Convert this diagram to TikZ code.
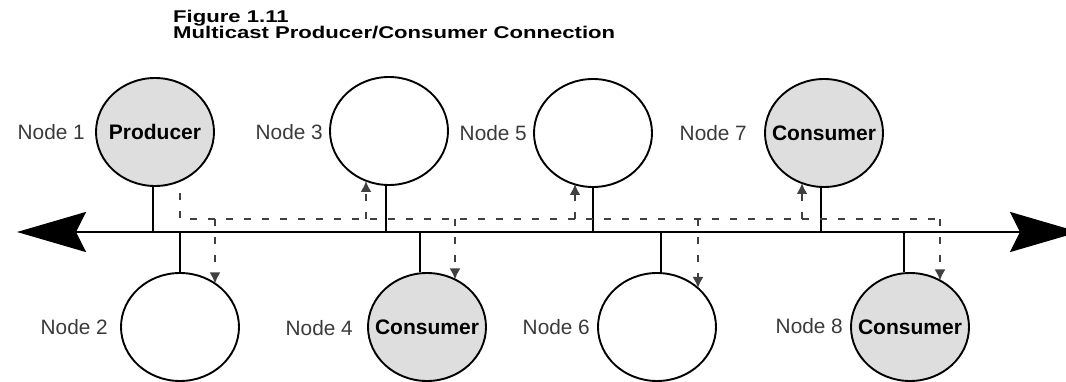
\documentclass[tikz,border=0pt]{standalone}
\usepackage{fontspec}
\setmainfont{Liberation Sans}
\newfontfamily\titlefont[FakeStretch=1.3]{Liberation Sans}
\usetikzlibrary{arrows.meta,shapes.geometric,calc}
\definecolor{nodefill}{RGB}{222,222,222}
\definecolor{dashgray}{RGB}{64,64,64}
\definecolor{labelgray}{RGB}{58,58,58}
\begin{document}
\begin{tikzpicture}[x=1pt,y=-1pt,
  station/.style={ellipse,draw=black,line width=1.9pt,minimum width=118pt,
    minimum height=108pt,inner sep=0pt},
  role/.style={label={[inner sep=0pt,font=\fontsize{21}{25}\selectfont\bfseries]center:#1}},
  active/.style={station,fill=nodefill},
  idle/.style={station,fill=white},
  lbl/.style={anchor=east,inner sep=0pt,text=labelgray,
    font=\fontsize{20.8}{25}\selectfont},
  headline/.style={anchor=base west,inner sep=0pt,
    font=\titlefont\fontsize{17}{20}\selectfont\bfseries},
  bus/.style={line width=2.6pt,
    {Stealth[length=69pt,width=40pt,inset=10pt]}-{Stealth[length=69pt,width=40pt,inset=10pt]}},
  tap/.style={line width=2.2pt},
  msg/.style={draw=dashgray,line width=2pt,dash pattern=on 7pt off 11pt},
  msgarrow/.style={msg,-{Latex[length=11pt,width=11pt]}}]
\useasboundingbox (0,0) rectangle (1066,382);

% title
\node[headline] (title1) at (173,23) {Figure 1.11};
\node[headline] (title2) at (173,39) {Multicast Producer/Consumer Connection};

% network bus
\coordinate (busL) at (17,232);
\coordinate (busR) at (1079,232);
\draw[bus] (busL) -- (busR);

% stations
\node[active,role=Producer] (n1) at (155,132) {};
\node[idle]                 (n2) at (180,327) {};
\node[idle]                 (n3) at (389,131) {};
\node[active,role=Consumer] (n4) at (427,327) {};
\node[idle]                 (n5) at (593,133) {};
\node[idle]                 (n6) at (657,327) {};
\node[active,role=Consumer] (n7) at (824,133) {};
\node[active,role=Consumer] (n8) at (910,327) {};

% station labels
\node[lbl] (l1) at (85,132) {Node 1};
\node[lbl] (l2) at (108,327) {Node 2};
\node[lbl] (l3) at (323,132) {Node 3};
\node[lbl] (l4) at (353,328) {Node 4};
\node[lbl] (l5) at (527,133) {Node 5};
\node[lbl] (l6) at (590,327) {Node 6};
\node[lbl] (l7) at (747,133) {Node 7};
\node[lbl] (l8) at (843,326) {Node 8};

% taps onto the bus
\foreach \n/\x in {1/153,3/386,5/593,7/821}
  \draw[tap] (\x,232) -- (\x,232 |- n\n.south);
\foreach \n/\x in {2/180,4/420,6/661,8/904}
  \draw[tap] (\x,232) -- (\x,232 |- n\n.north);

% multicast message path from the producer
\coordinate (t0) at (180,193);
\coordinate (t1) at (940,219);
\draw[msg] (t0) |- (t1);
\coordinate (b2) at (215,219);
\coordinate (b3) at (366,219);
\coordinate (b4) at (455,219);
\coordinate (b5) at (575,219);
\coordinate (b6) at (698,219);
\coordinate (b7) at (802,219);
\draw[msgarrow] (b2) -- ($(n2.center)+(35,-43.5)$);
\draw[msgarrow] (b3) -- ($(n3.center)+(-23,50)$);
\draw[msgarrow] (b4) -- ($(n4.center)+(28,-47.5)$);
\draw[msgarrow] (b5) -- ($(n5.center)+(-18,51)$);
\draw[msgarrow] (b6) -- ($(n6.center)+(41,-39)$);
\draw[msgarrow] (b7) -- ($(n7.center)+(-22,50)$);
\draw[msgarrow] (t1) -- ($(n8.center)+(30,-46.5)$);
\end{tikzpicture}
\end{document}
